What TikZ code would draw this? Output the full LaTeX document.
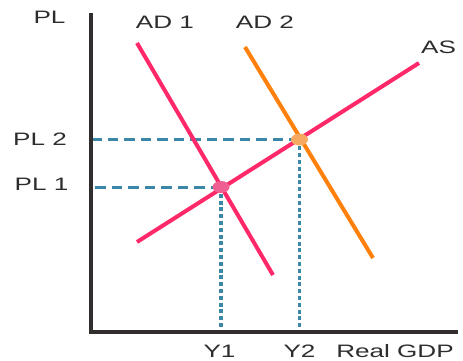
\documentclass[tikz,border=0pt]{standalone}
\usepackage{fontspec}
\setmainfont{Liberation Sans}
\usetikzlibrary{calc}

\definecolor{adpink}{RGB}{255,40,105}
\definecolor{adorange}{RGB}{255,128,10}
\definecolor{dotpink}{RGB}{240,95,145}
\definecolor{dotorange}{RGB}{245,170,95}
\definecolor{guideblue}{RGB}{58,135,168}
\definecolor{axisgray}{RGB}{50,46,46}
\definecolor{textgray}{RGB}{45,45,45}

\begin{document}
\begin{tikzpicture}[x=1pt, y=-1pt,
    % Define the styles for the curves and guides
    axisline/.style={draw=axisgray, line width=4pt},
    curve/.style={line width=4pt},
    hguide/.style={draw=guideblue, line width=3pt, dash pattern=on 10.5pt off 6pt},
    vguide/.style={draw=guideblue, line width=3.5pt, dash pattern=on 4pt off 2.8pt},
    lbl/.style={text=textgray, font=\fontsize{18}{20}\selectfont, xscale=1.45, inner sep=0pt}
]
\useasboundingbox (0,0) rectangle (463,360);

% Define the points of the axes
\coordinate (top) at (91,13);
\coordinate (origin) at (91,332);
\coordinate (right) at (458,332);

% Define the ends of the curves
\coordinate (AD1a) at (137,43);
\coordinate (AD1b) at (273,275);
\coordinate (AD2a) at (245,47);
\coordinate (AD2b) at (373,258);
\coordinate (ASa) at (137,242);
\coordinate (ASb) at (419,63);

% The two equilibrium points
\coordinate (E1) at (221,187);
\coordinate (E2) at (299.5,139.5);

% Draw the guides
\draw[hguide] (E2) -- (E2 -| origin);
\draw[hguide] (E1) -- (E1 -| origin);
\draw[vguide] (E1) -- ($(E1 |- origin)+(0,-3)$);
\draw[vguide] (E2) -- ($(E2 |- origin)+(0,-5)$);

% Draw the curves
\draw[curve, adpink] (AD1a) -- (AD1b);
\draw[curve, adorange] (AD2a) -- (AD2b);
\draw[curve, adpink] (ASa) -- (ASb);

% Draw the axes
\draw[axisline] (top) -- (origin) -- (right);

% Mark the equilibrium points
\fill[dotpink] (E1) ellipse (8.5pt and 6pt);
\fill[dotorange] (E2) ellipse (8.5pt and 6pt);

% Add the labels
\node[lbl] (pl) at (49.5,17.5) {PL};
\node[lbl] (ad1) at (165,22.5) {AD 1};
\node[lbl] (ad2) at (265,22.5) {AD 2};
\node[lbl] (as) at (438.5,47.5) {AS};
\node[lbl] (pl2) at (40,139) {PL 2};
\node[lbl] (pl1) at (41.5,184.5) {PL 1};
\node[lbl] (y1) at (219.5,351) {Y1};
\node[lbl] (y2) at (299.5,351) {Y2};
\node[lbl] (gdp) at (395,351) {Real GDP};

\end{tikzpicture}
\end{document}
